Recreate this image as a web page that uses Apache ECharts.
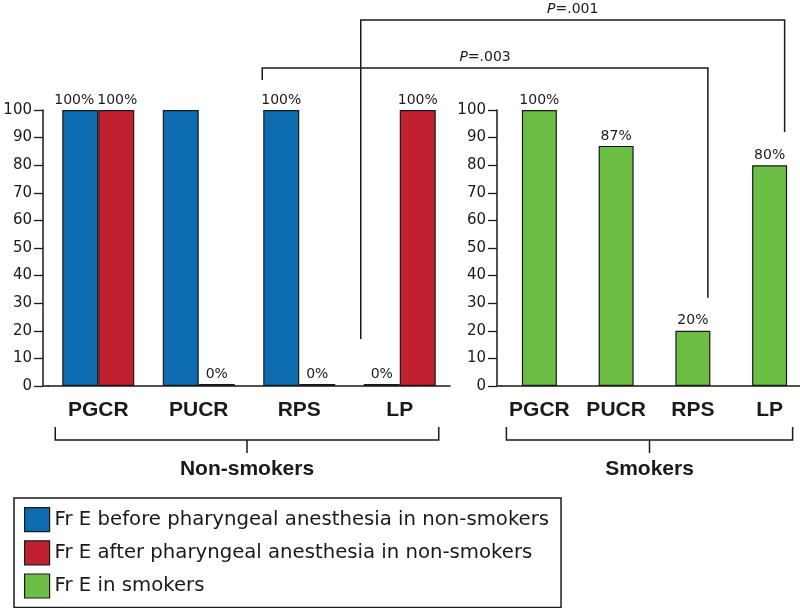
<!DOCTYPE html>
<html><head><meta charset="utf-8">
<script src="https://cdn.jsdelivr.net/npm/echarts@6/dist/echarts.min.js"></script>
<style>html,body{margin:0;padding:0;background:#fff}#c{width:800px;height:608px}</style>
</head><body><div id="c"></div>
<script>
const categories = ['PGCR', 'PUCR', 'RPS', 'LP'];
const nonSmokersBefore = [100, 100, 100, 0];
const beforeLabelShown = [true, false, true, true];
const nonSmokersAfter = [100, 0, 0, 100];
const smokers = [100, 87, 20, 80];
const seriesNames = [
  'Fr E before pharyngeal anesthesia in non-smokers',
  'Fr E after pharyngeal anesthesia in non-smokers',
  'Fr E in smokers'
];
const groupNames = ['Non-smokers', 'Smokers'];
const yMin = 0, yMax = 100, yStep = 10;
const comparisons = [
  { p: '.003', cat: 'RPS' },
  { p: '.001', cat: 'LP' }
];

const C_BLUE = '#0d6cb0', C_RED = '#c0202f', C_GREEN = '#6cbe45', INK = '#1a1a1a';
const FONT = 'DejaVu Sans';

const chart = echarts.init(document.getElementById('c'), null, { renderer: 'canvas' });

function yAxisCfg(grid, offset) {
  return {
    type: 'value', gridIndex: grid, min: yMin, max: yMax, interval: yStep, offset: offset,
    axisLine: { show: true, lineStyle: { color: INK, width: 1.5 } },
    axisTick: { show: true, length: 9, lineStyle: { color: INK, width: 1.3 } },
    axisLabel: { fontFamily: FONT, fontSize: 15, color: INK, margin: 11 },
    splitLine: { show: false }
  };
}
function xAxisCfg(grid) {
  return {
    type: 'category', gridIndex: grid, data: categories,
    axisLine: { show: true, lineStyle: { color: INK, width: 1.5 } },
    axisTick: { show: false },
    axisLabel: { interval: 0, fontFamily: 'Liberation Sans', fontWeight: 'bold', fontSize: 21, color: INK, margin: 14 }
  };
}
const barLabel = { show: true, position: 'top', distance: 3, formatter: '{c}%', fontFamily: FONT, fontSize: 14, color: INK };
const border = { borderColor: INK, borderWidth: 1.2 };

chart.setOption({
  animation: false,
  backgroundColor: '#fff',
  grid: [
    { left: 48, top: 110, width: 402, height: 276, outerBoundsMode: 'none', containLabel: false },
    { left: 501, top: 110, width: 307, height: 276, outerBoundsMode: 'none', containLabel: false }
  ],
  xAxis: [xAxisCfg(0), xAxisCfg(1)],
  yAxis: [yAxisCfg(0, 5), yAxisCfg(1, 4)],
  legend: {
    orient: 'vertical', left: 14, top: 498,
    itemWidth: 25, itemHeight: 24, itemGap: 8,
    padding: [9, 12, 9, 10],
    borderColor: INK, borderWidth: 1.5,
    icon: 'rect',
    itemStyle: { borderColor: INK, borderWidth: 1.2 },
    textStyle: { fontFamily: FONT, fontSize: 19.7, color: INK },
    data: seriesNames
  },
  series: [
    {
      name: seriesNames[0], type: 'bar', xAxisIndex: 0, yAxisIndex: 0,
      barWidth: 36, barGap: '0%', barMinHeight: 2,
      itemStyle: Object.assign({ color: C_BLUE }, border),
      label: barLabel,
      data: nonSmokersBefore.map((v, i) => ({
        value: v,
        label: { show: beforeLabelShown[i], offset: i === 0 ? [-6, 0] : [0, 0] }
      }))
    },
    {
      name: seriesNames[1], type: 'bar', xAxisIndex: 0, yAxisIndex: 0,
      barWidth: 36, barGap: '0%', barMinHeight: 2,
      itemStyle: Object.assign({ color: C_RED }, border),
      label: barLabel,
      data: nonSmokersAfter.map((v, i) => ({ value: v, label: { offset: i === 0 ? [1, 0] : [0, 0] } }))
    },
    {
      name: seriesNames[2], type: 'bar', xAxisIndex: 1, yAxisIndex: 1,
      barWidth: 35,
      itemStyle: Object.assign({ color: C_GREEN }, border),
      label: barLabel,
      data: smokers
    }
  ]
});

function px(grid, cat, val) {
  return chart.convertToPixel({ xAxisIndex: grid, yAxisIndex: grid }, [cat, val]);
}
const lineStyle = { stroke: INK, lineWidth: 1.5, fill: null };
const graphics = [];

// close the small gap between the offset y axes and the x axes
[[0, 5], [1, 4]].forEach(([g, off]) => {
  const rect = chart.getModel().getComponent('grid', g).coordinateSystem.getRect();
  graphics.push({ type: 'line', shape: { x1: rect.x - off, y1: rect.y + rect.height, x2: rect.x + 1, y2: rect.y + rect.height }, style: { stroke: INK, lineWidth: 1.5 } });
});

// comparison brackets
const cmpGeom = {
  '.003': { lOff: -37, lDrop: 12, topAbove: 42, rOff: 15, rEnd: 32 },
  '.001': { lOff: -39, lEndVal: 17, topAbove: 90, rOff: 15, rEnd: 92 }
};
comparisons.forEach(c => {
  const g = cmpGeom[c.p];
  const top100 = px(0, c.cat, 100)[1];
  const yTop = top100 - g.topAbove;
  const xL = px(0, c.cat, 0)[0] + g.lOff;
  const yLb = g.lEndVal !== undefined ? px(0, c.cat, g.lEndVal)[1] : yTop + g.lDrop;
  const xR = px(1, c.cat, 0)[0] + g.rOff;
  const yRb = px(1, c.cat, g.rEnd)[1];
  graphics.push({ type: 'polyline', shape: { points: [[xL, yLb], [xL, yTop], [xR, yTop], [xR, yRb]] }, style: lineStyle });
  graphics.push({
    type: 'text', x: (xL + xR) / 2, y: yTop - 4,
    style: {
      text: '{i|P}=' + c.p, fontFamily: FONT, fontSize: 14, fill: INK, align: 'center', verticalAlign: 'bottom',
      rich: { i: { fontStyle: 'italic', fontFamily: FONT, fontSize: 14, fill: INK } }
    }
  });
});

// group brackets
[[0, -43, 39], [1, -33, 23]].forEach(([g, lo, ro], k) => {
  const base = px(g, categories[0], 0)[1];
  const xL = px(g, categories[0], 0)[0] + lo;
  const xR = px(g, categories[categories.length - 1], 0)[0] + ro;
  const y = base + 54;
  const xm = (xL + xR) / 2;
  graphics.push({ type: 'polyline', shape: { points: [[xL, y - 13], [xL, y], [xR, y], [xR, y - 13]] }, style: lineStyle });
  graphics.push({ type: 'line', shape: { x1: xm, y1: y, x2: xm, y2: y + 13 }, style: { stroke: INK, lineWidth: 1.5 } });
  graphics.push({
    type: 'text', x: xm, y: y + 29,
    style: { text: groupNames[k], fontFamily: 'Liberation Sans', fontWeight: 'bold', fontSize: 21, fill: INK, align: 'center', verticalAlign: 'middle' }
  });
});

chart.setOption({ graphic: graphics });
</script>
</body></html>
